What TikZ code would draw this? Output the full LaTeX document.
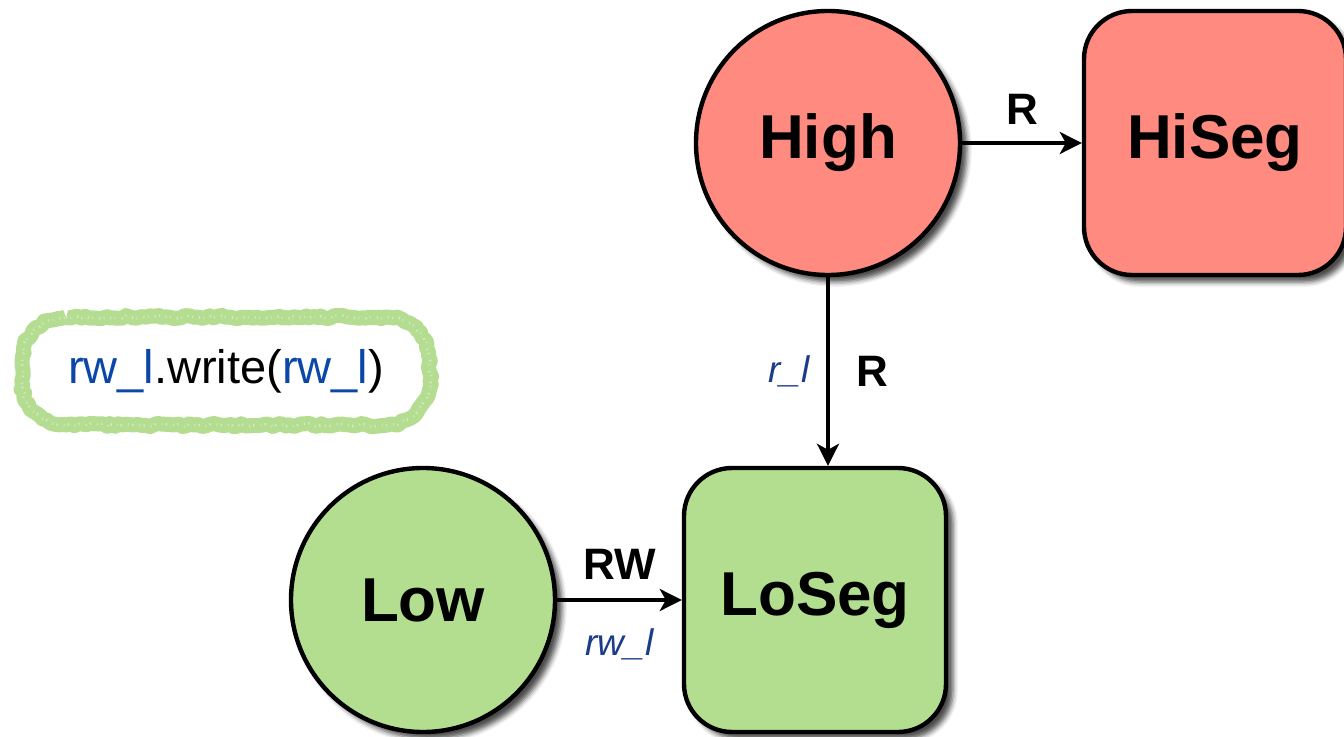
\documentclass[tikz,border=0pt]{standalone}
\usepackage{fontspec}
\setmainfont{Liberation Sans}
\usetikzlibrary{positioning,arrows.meta,shadows.blur,decorations.pathmorphing}
\definecolor{hired}{HTML}{FF8A80}
\definecolor{logreen}{HTML}{B3DE8F}
\definecolor{chalk}{HTML}{B4DD92}
\definecolor{codeblue}{HTML}{0A47A8}
\definecolor{varblue}{HTML}{1A3C8A}
\newcommand*{\lbl}[1]{\fontsize{22}{24}\selectfont\bfseries #1}
\newcommand*{\var}[1]{\fontsize{18.5}{20}\selectfont\itshape\color{varblue}#1}
\newcommand*{\cb}[1]{\textcolor{codeblue}{#1}}

\begin{document}
\begin{tikzpicture}[x=0.5pt,y=-0.5pt,
  shade/.style={blur shadow={shadow xshift=3.5pt,shadow yshift=-3.5pt,
      shadow blur radius=2.5pt,shadow opacity=70}},
  level/.style={circle,draw,line width=2.2pt,minimum size=132pt,inner sep=0pt,
      font=\fontsize{31}{34}\selectfont\bfseries,shade},
  seg/.style={rectangle,rounded corners=24pt,draw,line width=2.2pt,
      minimum width=131pt,minimum height=132pt,inner sep=0pt,
      font=\fontsize{31}{34}\selectfont\bfseries,shade},
  chalkline/.style={draw=chalk,line width=7.5pt,line join=round,
      decorate,decoration={random steps,segment length=2pt,amplitude=0.8pt},
      postaction={draw=white,line width=1.2pt,opacity=0.45,
        dash pattern=on 0.6pt off 1.7pt on 0.4pt off 3.1pt}},
  flow/.style={line width=1.8pt,-{Stealth[length=11pt,width=11pt,inset=3pt]}}]
\useasboundingbox (0,0) rectangle (1344,737);
% The two levels and their segments
\node[level,fill=hired] (high) at (828,143) {High};
\node[seg,fill=hired] (hiseg) at (1215,143) {HiSeg};
\node[level,fill=logreen] (low) at (423,600) {Low};
\node[seg,fill=logreen] (loseg) at (815,600) {LoSeg};
% The code, with a chalk line round it
\node[font=\fontsize{23.5}{26}\selectfont] (code) at (226,371)
      {\cb{rw\_l}.write(\cb{rw\_l})};
\begin{scope}[shift={(code.center)},x=1pt,y=1pt]
\draw[chalkline] (-80,27) -- (80,27) arc[start angle=90,end angle=0,radius=22]
  -- (102,-5) arc[start angle=0,end angle=-90,radius=22]
  -- (-80,-27) arc[start angle=-90,end angle=-180,radius=22]
  -- (-102,5) arc[start angle=180,end angle=90,radius=22] -- cycle;
\end{scope}
% Accesses
\draw[flow] (high) -- node[above,yshift=5pt] {\lbl{R}} (hiseg);
\draw[flow] (high) -- node[left,xshift=-5pt] {\var{r\_l}}
                      node[right,xshift=10pt] {\lbl{R}} (high |- loseg.north);
\draw[flow] (low) -- node[above,yshift=6pt] {\lbl{RW}}
                     node[below,yshift=-10pt] {\var{rw\_l}} (loseg);
\end{tikzpicture}
\end{document}
